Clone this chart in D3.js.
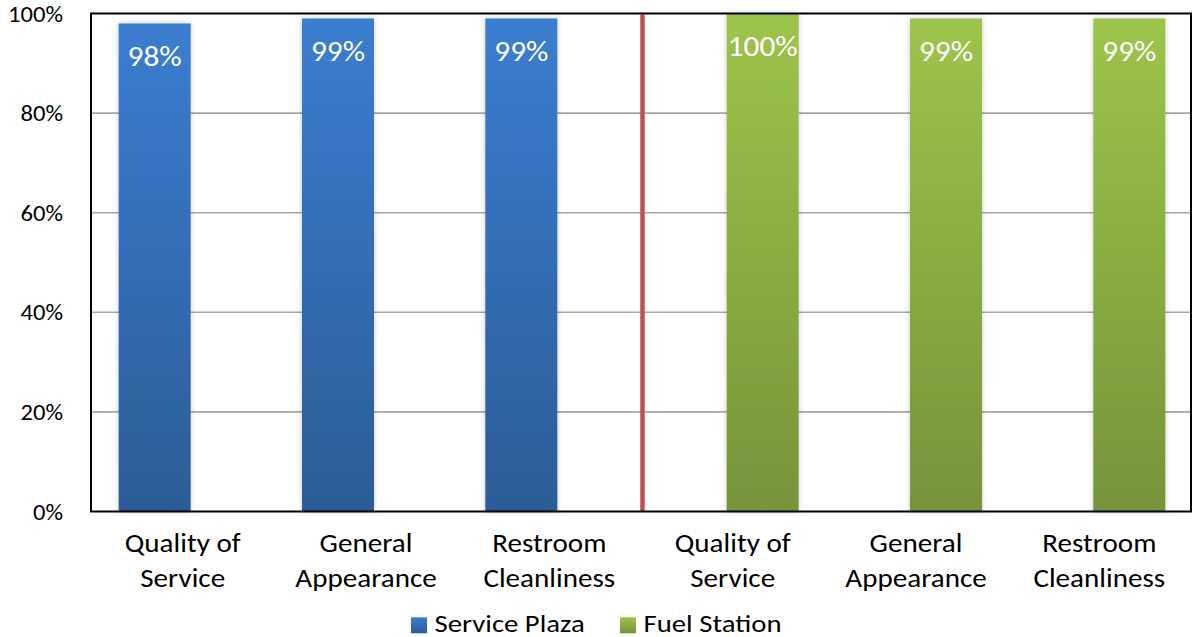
<!DOCTYPE html>
<html>
<head>
<meta charset="utf-8">
<script src="https://cdn.jsdelivr.net/npm/d3@7/dist/d3.min.js"></script>
<style>
  html, body { margin: 0; padding: 0; background: #fff; }
  svg { display: block; font-family: Carlito, Calibri, Lato, "Open Sans", sans-serif; }
</style>
</head>
<body>
<svg id="chart" width="1193" height="637"></svg>
<script>
// Satisfaction ratings by facility type
const categories = [
  "Quality of Service", "General Appearance", "Restroom Cleanliness",
  "Quality of Service ", "General Appearance ", "Restroom Cleanliness "
];
const categoryLines = [
  ["Quality of", "Service"], ["General", "Appearance"], ["Restroom", "Cleanliness"],
  ["Quality of", "Service"], ["General", "Appearance"], ["Restroom", "Cleanliness"]
];
const seriesNames = ["Service Plaza", "Fuel Station"];
const servicePlaza = [0.98, 0.99, 0.99, null, null, null];
const fuelStation = [null, null, null, 1.00, 0.99, 0.99];
const yTicks = [0, 0.2, 0.4, 0.6, 0.8, 1.0];

const svg = d3.select("#chart");
const margin = { left: 91, right: 2, top: 13.5, bottom: 125.5 };
const W = 1193, H = 637;
const plotW = W - margin.left - margin.right;
const plotH = H - margin.top - margin.bottom;

const x = d3.scaleBand().domain(categories).range([margin.left, margin.left + plotW]).padding(0);
const xs = d3.scalePoint().domain(seriesNames).range([-28, 30]);
const barW = 72;
const y = d3.scaleLinear().domain([0, 1]).range([margin.top + plotH, margin.top]);
const pct = d3.format(".0%");

// text placed with a slight horizontal widening
function label(parent, tx, ty, str, opts) {
  const t = parent.append("text")
    .attr("transform", `translate(${tx},${ty}) scale(${opts.sx || 1},1)`)
    .attr("text-anchor", opts.anchor || "start")
    .attr("font-size", opts.size)
    .attr("fill", opts.fill || "#000")
    .text(str);
  return t;
}

const defs = svg.append("defs");
const gradBlue = defs.append("linearGradient").attr("id", "gBlue").attr("x1", 0).attr("y1", 0).attr("x2", 0).attr("y2", 1);
gradBlue.append("stop").attr("offset", "0%").attr("stop-color", "#3b7dd0");
gradBlue.append("stop").attr("offset", "100%").attr("stop-color", "#2c5c96");
const gradGreen = defs.append("linearGradient").attr("id", "gGreen").attr("x1", 0).attr("y1", 0).attr("x2", 0).attr("y2", 1);
gradGreen.append("stop").attr("offset", "0%").attr("stop-color", "#9dc44b");
gradGreen.append("stop").attr("offset", "100%").attr("stop-color", "#76943a");
const shadow = defs.append("filter").attr("id", "barShadow").attr("x", "-20%").attr("y", "-5%").attr("width", "140%").attr("height", "110%");
shadow.append("feDropShadow").attr("dx", 0).attr("dy", 0).attr("stdDeviation", 2.5)
  .attr("flood-color", "#000").attr("flood-opacity", 0.22);

// gridlines
svg.append("g").selectAll("line").data(yTicks.filter(t => t > 0 && t < 1)).join("line")
  .attr("x1", margin.left).attr("x2", margin.left + plotW)
  .attr("y1", d => y(d)).attr("y2", d => y(d))
  .attr("stroke", "#a6a6a6").attr("stroke-width", 1.6);

// y axis labels
const yg = svg.append("g");
yTicks.forEach(t => label(yg, 63, y(t) + 8, pct(t), { size: 23, anchor: "end", sx: 1.07 }));

// bars
const seriesData = [
  { name: seriesNames[0], values: servicePlaza, fill: "url(#gBlue)" },
  { name: seriesNames[1], values: fuelStation, fill: "url(#gGreen)" }
];
const barsG = svg.append("g");
const labelsG = svg.append("g");
seriesData.forEach(s => {
  const pts = categories.map((c, i) => ({ c, v: s.values[i] })).filter(d => d.v != null);
  barsG.append("g").selectAll("rect").data(pts).join("rect")
    .attr("x", d => x(d.c) + x.bandwidth() / 2 + xs(s.name) - barW / 2)
    .attr("width", barW)
    .attr("y", d => y(d.v))
    .attr("height", d => y(0) - y(d.v))
    .attr("fill", s.fill)
    .attr("filter", "url(#barShadow)");
  pts.forEach(d => label(labelsG, x(d.c) + x.bandwidth() / 2 + xs(s.name), y(d.v) + 42.5, pct(d.v),
    { size: 29, anchor: "middle", fill: "#fff", sx: 1.08 }));
});

// separator between the two facility groups
svg.append("line")
  .attr("x1", x(categories[3]) + 1.5).attr("x2", x(categories[3]) + 1.5)
  .attr("y1", margin.top + 1).attr("y2", y(0))
  .attr("stroke", "#c0504d").attr("stroke-width", 4.5);

// plot frame
svg.append("rect")
  .attr("x", margin.left).attr("y", margin.top)
  .attr("width", plotW).attr("height", plotH)
  .attr("fill", "none").attr("stroke", "#000").attr("stroke-width", 2);

// category labels
const xg = svg.append("g");
categories.forEach((c, i) => {
  categoryLines[i].forEach((ln, j) => {
    label(xg, x(c) + x.bandwidth() / 2, 552 + j * 34.5, ln, { size: 26, anchor: "middle", sx: 1.12 });
  });
});

// legend
const legend = svg.append("g");
const legendItems = [
  { name: seriesNames[0], fill: "url(#gBlue)", x: 411 },
  { name: seriesNames[1], fill: "url(#gGreen)", x: 620 }
];
legendItems.forEach(it => {
  legend.append("rect").attr("x", it.x).attr("y", 617.3).attr("width", 16).attr("height", 16).attr("fill", it.fill);
  label(legend, it.x + 23.5, 631.5, it.name, { size: 25, sx: 1.15 });
});
</script>
</body>
</html>
